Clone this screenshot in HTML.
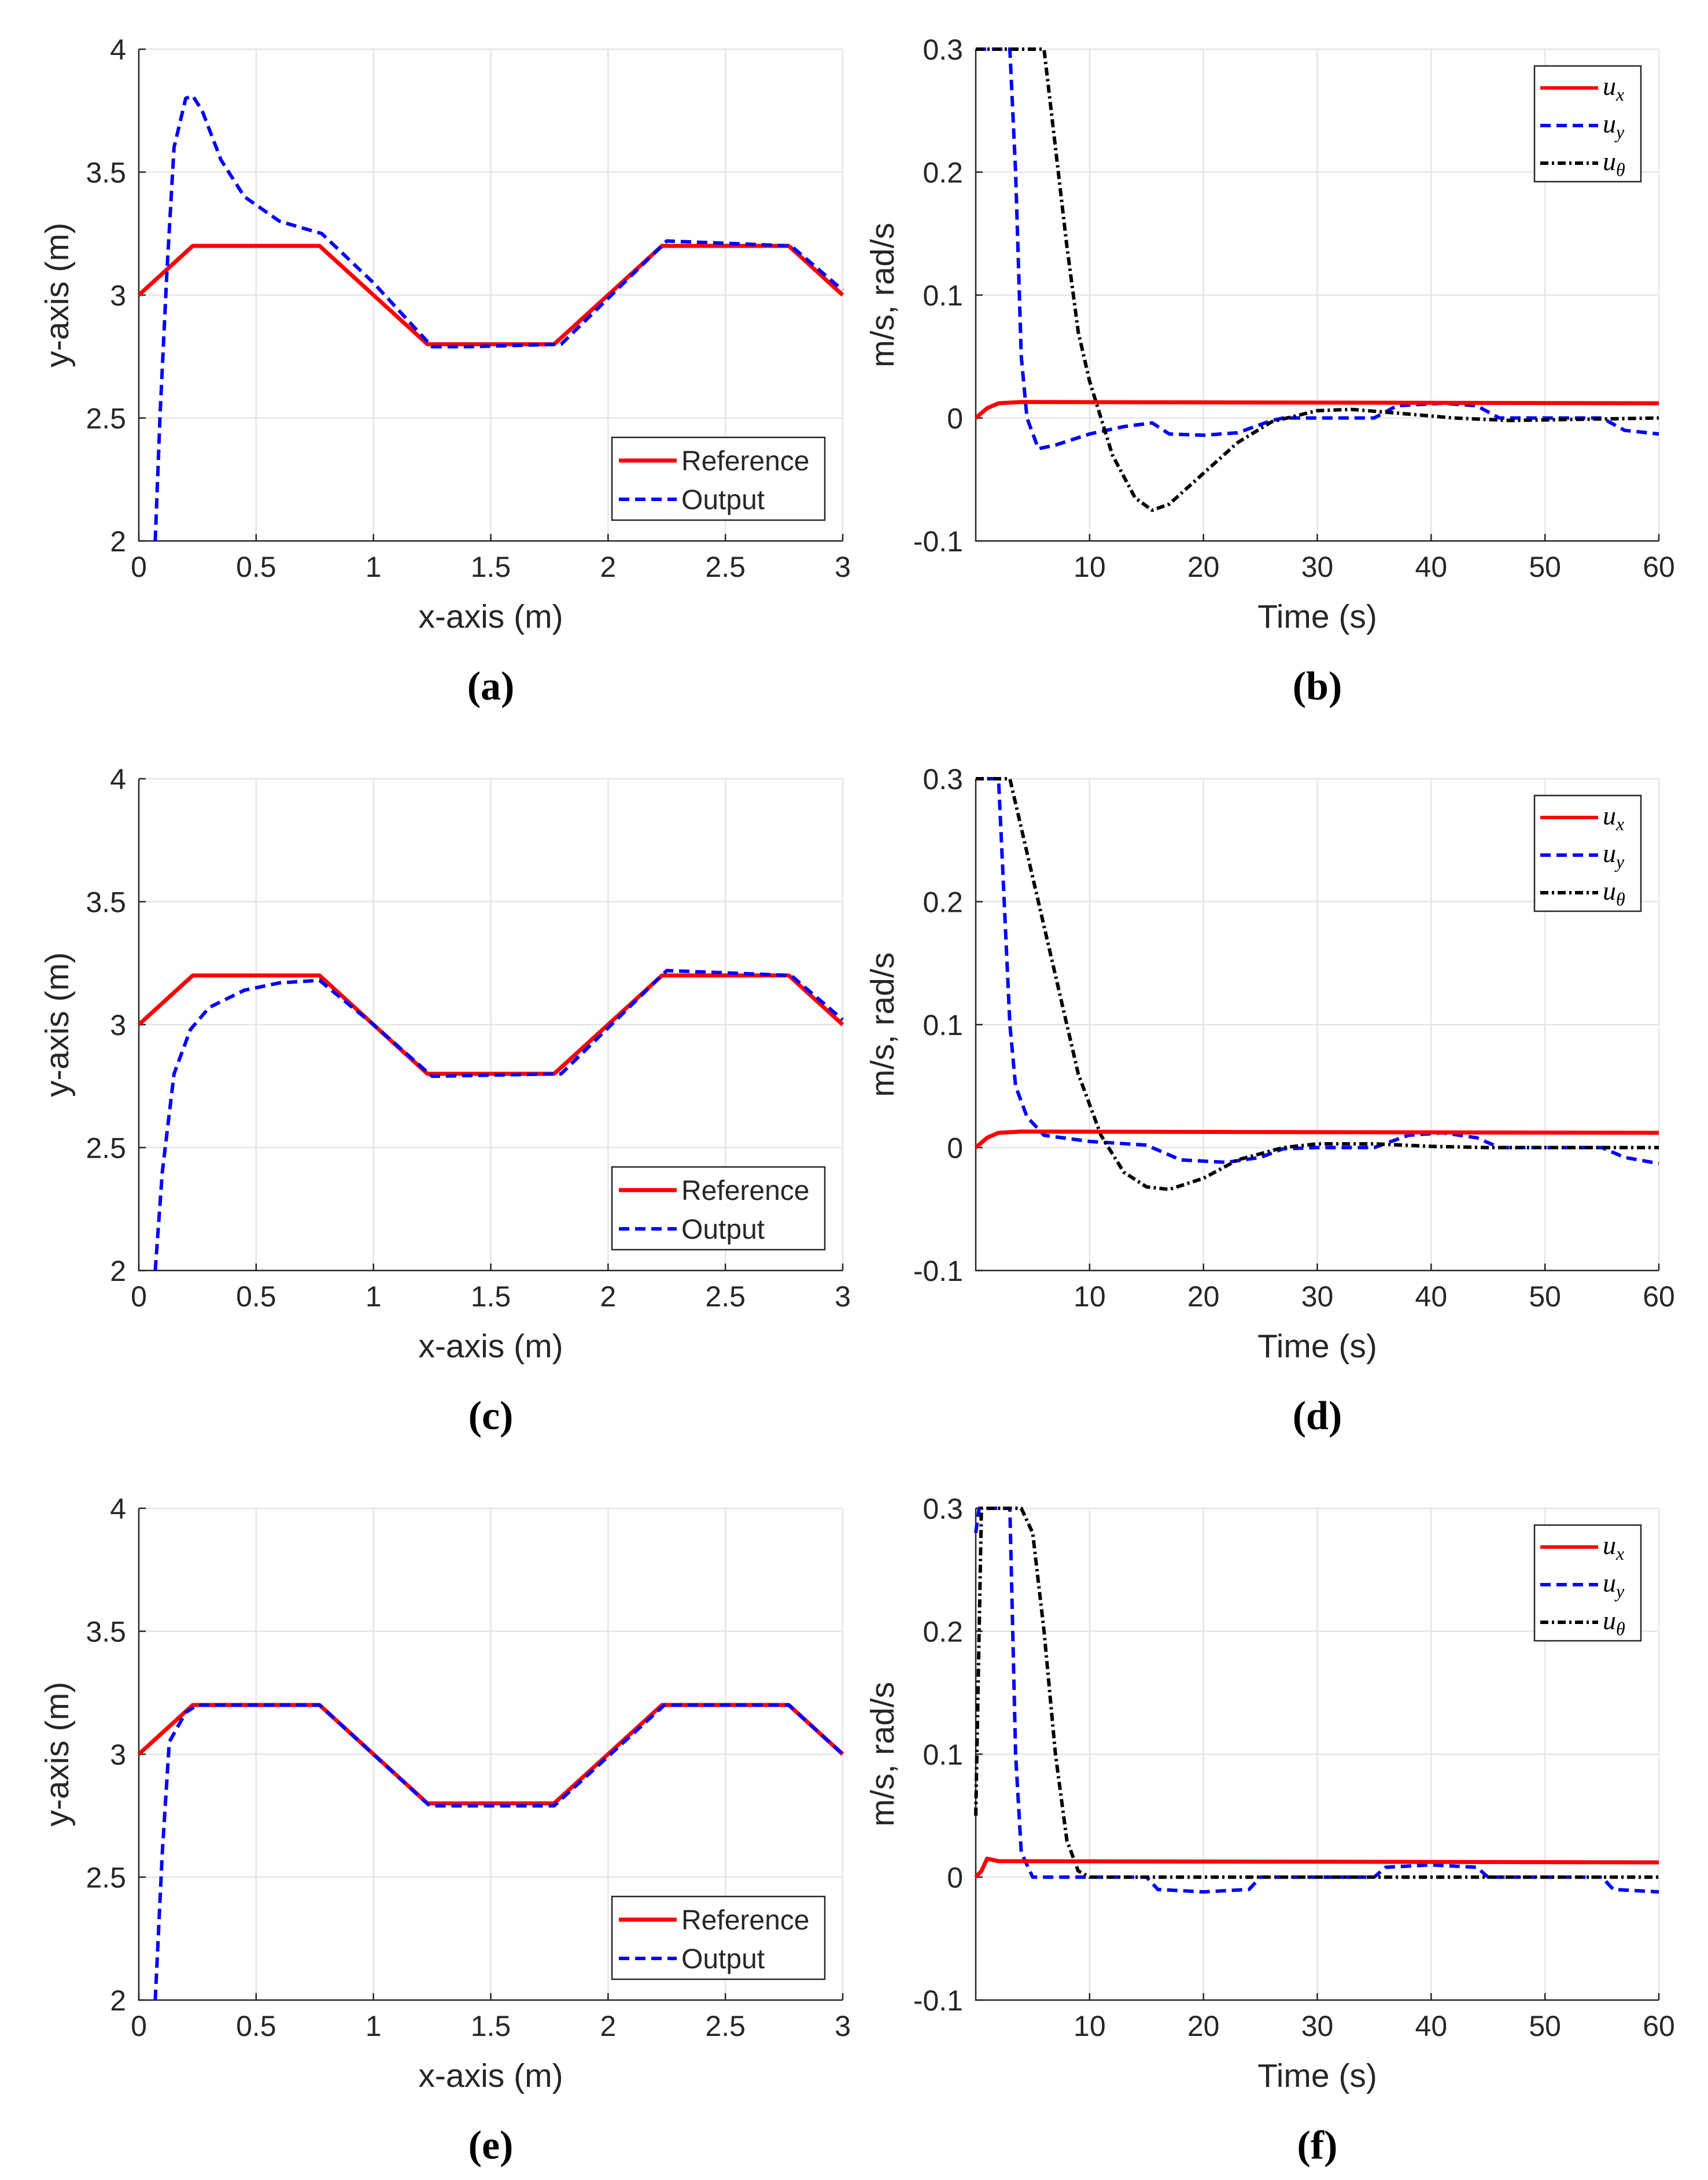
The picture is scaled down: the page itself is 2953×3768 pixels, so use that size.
<!DOCTYPE html>
<html><head><meta charset="utf-8"><style>
html,body{margin:0;padding:0;background:#fff;}
svg{display:block;}
text{font-family:"Liberation Sans",sans-serif;fill:#262626;}
</style></head><body>
<svg id="fig" width="2953" height="3768" viewBox="0 0 2953 3768" xmlns="http://www.w3.org/2000/svg"></svg>
<script>
// ---- data ----
const refX=[0,0.23,0.77,1.23,1.77,2.23,2.77,3];
const refY=[3,3.2,3.2,2.8,2.8,3.2,3.2,3];
const outAX=[0.07,0.09,0.12,0.15,0.2,0.23,0.27,0.35,0.45,0.6,0.78,1.0,1.25,1.4,1.8,2.25,2.78,3];
const outAY=[2,2.5,3.1,3.6,3.8,3.81,3.75,3.55,3.4,3.3,3.25,3.05,2.79,2.79,2.8,3.22,3.2,3.02];
const outCX=[0.07,0.1,0.15,0.22,0.3,0.45,0.6,0.77,1.0,1.25,1.8,2.25,2.78,3];
const outCY=[2,2.4,2.8,2.98,3.07,3.14,3.17,3.18,3.0,2.79,2.8,3.22,3.2,3.02];
const outEX=[0.07,0.1,0.13,0.2,0.25,0.77,1.24,1.77,2.24,2.77,3];
const outEY=[2,2.6,3.05,3.17,3.2,3.2,2.79,2.79,3.2,3.2,3];
const uxBT=[0,1,2,4,60];
const uxBV=[0,0.008,0.012,0.013,0.012];
const uyBT=[0,3,3.5,4,4.5,5.5,7,10,13,15.5,17,20,23,26,27,35,37,41,44,46,55,57,60];
const uyBV=[0.3,0.3,0.2,0.05,0,-0.025,-0.022,-0.013,-0.007,-0.004,-0.013,-0.014,-0.012,-0.002,0,0,0.01,0.012,0.01,0,0,-0.01,-0.013];
const utBT=[0,6,7,8,9,10,11,12,14,15.5,17,20,23,26,30,33,37,42,47,60];
const utBV=[0.3,0.3,0.22,0.14,0.07,0.03,0,-0.03,-0.065,-0.075,-0.07,-0.045,-0.02,-0.003,0.006,0.007,0.004,0,-0.002,0];
const uyDT=[1,2,2.5,3,3.5,4.5,6,10,15,18,22,25,27,30,35,38,41,44,46,55,57,60];
const uyDV=[0.3,0.3,0.2,0.1,0.05,0.025,0.01,0.005,0.002,-0.01,-0.012,-0.008,-0.001,0,0,0.01,0.012,0.008,0,0,-0.008,-0.013];
const utDT=[0,3,5,7,9,11,13,15,17,20,23,27,30,35,40,45,60];
const utDV=[0.3,0.3,0.22,0.14,0.06,0.01,-0.02,-0.032,-0.034,-0.025,-0.01,0,0.003,0.003,0.001,0,0];
const uxFT=[0,0.5,1,2,60];
const uxFV=[0,0.005,0.015,0.013,0.012];
const uyFT=[0,0.3,3,3.5,4,5,15,16,20,24,25,35,36,40,44,45,55,56,60];
const uyFV=[0.28,0.3,0.3,0.1,0.02,0,0,-0.01,-0.012,-0.01,0,0,0.008,0.01,0.008,0,0,-0.01,-0.012];
const utFT=[0,0.2,0.5,4,5,6,7,8,9,10,60];
const utFV=[0.05,0.15,0.3,0.3,0.28,0.2,0.1,0.03,0.005,0,0];
const xTicksA=[0,0.5,1,1.5,2,2.5,3];
const yTicksA=[2,2.5,3,3.5,4];
const xTicksB=[10,20,30,40,50,60];
const yTicksB=[-0.1,0,0.1,0.2,0.3];
const captions=["(a)","(b)","(c)","(d)","(e)","(f)"];

const NS="http://www.w3.org/2000/svg";
const fig=document.getElementById('fig');
function mk(tag,attrs,parent){const e=document.createElementNS(NS,tag);for(const k in attrs)e.setAttribute(k,attrs[k]);(parent||fig).appendChild(e);return e;}

function panel(idx,row,col){
  const L=col===0?240:1687, R=col===0?1457:2868;
  const T=85+row*1261, B=T+850;
  const traj=col===0;
  const xmin=0,xmax=traj?3:60,ymin=traj?2:-0.1,ymax=traj?4:0.3;
  const sx=v=>L+(v-xmin)/(xmax-xmin)*(R-L);
  const sy=v=>B-(v-ymin)/(ymax-ymin)*(B-T);
  const g=mk('g',{});
  
  
  const xt=traj?xTicksA:xTicksB, yt=traj?yTicksA:yTicksB;
  xt.forEach(t=>{const l=mk('line',{x1:sx(t),x2:sx(t),y1:T,y2:B,stroke:'#e6e6e6','stroke-width':2.5},g);
    });
  yt.forEach(t=>{const l=mk('line',{x1:L,x2:R,y1:sy(t),y2:sy(t),stroke:'#e6e6e6','stroke-width':2.5},g);
    });
  const ax=mk('path',{d:`M${L},${T}V${B}H${R}`,fill:'none',stroke:'#262626','stroke-width':2.5},g);
  
  xt.forEach(t=>{mk('line',{x1:sx(t),x2:sx(t),y1:B,y2:B-12,stroke:'#262626','stroke-width':2.5},g);
    const tx=mk('text',{x:sx(t),y:B+62,'text-anchor':'middle','font-size':50},g);tx.textContent=t;
    });
  yt.forEach(t=>{mk('line',{x1:L,x2:L+12,y1:sy(t),y2:sy(t),stroke:'#262626','stroke-width':2.5},g);
    const tx=mk('text',{x:L-22,y:sy(t)+18,'text-anchor':'end','font-size':50},g);tx.textContent=t;
    });
  const xl=mk('text',{x:(L+R)/2,y:B+150,'text-anchor':'middle','font-size':57},g);
  xl.textContent=traj?'x-axis (m)':'Time (s)';
  
  const yx=traj?118:1545;
  const yl=mk('text',{x:yx,y:(T+B)/2,'text-anchor':'middle','font-size':57,transform:`rotate(-90 ${yx} ${(T+B)/2})`},g);
  yl.textContent=traj?'y-axis (m)':'m/s, rad/s';
  
  const cap=mk('text',{x:(L+R)/2,y:B+274,'text-anchor':'middle','font-size':70,style:'font-family:"Liberation Serif",serif;font-weight:bold;fill:#000'},g);
  cap.textContent=captions[idx];
  
  function line(xs,ys,color,dash,w,name){
    const d=xs.map((x,i)=>(i?'L':'M')+sx(x).toFixed(1)+','+sy(ys[i]).toFixed(1)).join('');
    const p=mk('path',{d,fill:'none',stroke:color,'stroke-width':w,'stroke-dasharray':dash,'stroke-linejoin':'round'},g);
    
  }
  if(traj){
    const ox=[outAX,outCX,outEX][row], oy=[outAY,outCY,outEY][row];
    line(refX,refY,'#ff0000','none',7,'reference-line');
    line(ox,oy,'#0000ff','18 10',6,'output-line');
    const lx=1058,ly=T+671;
    const lg=mk('g',{},g);
    mk('rect',{x:lx,y:ly,width:368,height:143,fill:'#fff',stroke:'#262626','stroke-width':2.5},lg);
    mk('line',{x1:lx+12,x2:lx+112,y1:ly+40,y2:ly+40,stroke:'#ff0000','stroke-width':7},lg);
    mk('line',{x1:lx+12,x2:lx+112,y1:ly+107,y2:ly+107,stroke:'#0000ff','stroke-width':6,'stroke-dasharray':'18 10'},lg);
    const t1=mk('text',{x:lx+120,y:ly+57,'font-size':48},lg);t1.textContent='Reference';
    
    const t2=mk('text',{x:lx+120,y:ly+124,'font-size':48},lg);t2.textContent='Output';
    
  } else {
    const uxT=[uxBT,uxBT,uxFT][row],uxV=[uxBV,uxBV,uxFV][row];
    const uyT=[uyBT,uyDT,uyFT][row],uyV=[uyBV,uyDV,uyFV][row];
    const utT=[utBT,utDT,utFT][row],utV=[utBV,utDV,utFV][row];
    line(uyT,uyV,'#0000ff','18 10',6,'uy-line');
    line(utT,utV,'#000000','14 6 4 6',6,'utheta-line');
    line(uxT,uxV,'#ff0000','none',7,'ux-line');
    const lx=2653,ly=T+29;
    const lg=mk('g',{},g);
    mk('rect',{x:lx,y:ly,width:184,height:200,fill:'#fff',stroke:'#262626','stroke-width':2.5},lg);
    const cols=['#ff0000','#0000ff','#000000'],dashes=['none','18 10','14 6 4 6'],subs=['x','y','θ'];
    for(let i=0;i<3;i++){
      const yy=ly+38+i*65;
      mk('line',{x1:lx+10,x2:lx+110,y1:yy,y2:yy,stroke:cols[i],'stroke-width':6,'stroke-dasharray':dashes[i]},lg);
      const t=mk('text',{x:lx+118,y:yy+12,'font-size':46,style:'font-family:"Liberation Serif",serif;font-style:italic;fill:#000'},lg);
      t.innerHTML='u<tspan font-size="32" dy="10">'+subs[i]+'</tspan>';
      
    }
  }
}
let k=0;
for(let r=0;r<3;r++){for(let c=0;c<2;c++){panel(k,r,c);k++;}}
</script>
</body></html>
